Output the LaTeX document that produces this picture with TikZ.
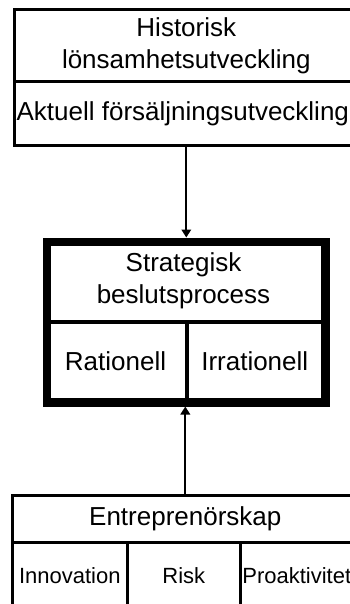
\documentclass[tikz,border=0pt]{standalone}
\usepackage{fontspec}
\setmainfont{Liberation Sans}
\usetikzlibrary{arrows.meta}

\tikzset{
  cell/.style={draw, line width=2.6pt, inner sep=0pt, anchor=north west, align=center,
               font=\fontsize{26}{32}\selectfont},
  smallcell/.style={cell, font=\fontsize{22}{26}\selectfont},
  inner/.style={cell, line width=3.5pt},
  frame/.style={draw, line width=8.5pt, inner sep=0pt, anchor=north west},
  link/.style={line width=2pt, -{Triangle[length=8pt,width=9.5pt]}}
}

\begin{document}
\begin{tikzpicture}[x=1pt,y=-1pt]
  \useasboundingbox (0,0) rectangle (350,604);
  \clip (0,0) rectangle (350,604);

  % upper block: profitability and sales history
  \node[cell, minimum width=344pt, minimum height=72pt] (hist) at (13,8)
    {Historisk\\lönsamhetsutveckling};
  \node[cell, minimum width=344pt, minimum height=64pt] (akt) at (13,80)
    {\hspace*{-7pt}Aktuell försäljningsutveckling};

  % central block: strategic decision process
  \node[inner, minimum width=278.5pt, minimum height=82.5pt] (strat) at (42.5,237.5)
    {Strategisk\\beslutsprocess};
  \node[inner, minimum width=142.5pt, minimum height=78pt] (rat) at (42.5,320)
    {Rationell};
  \node[inner, minimum width=136pt, minimum height=78pt] (irr) at (185,320)
    {Irrationell};
  \node[frame, minimum width=278.5pt, minimum height=160.5pt] (frame) at (42.5,237.5) {};

  % lower block: entrepreneurship and its dimensions
  \node[cell, minimum width=346pt, minimum height=47pt] (entre) at (11,494)
    {Entreprenörskap};
  \node[smallcell, minimum width=115pt, minimum height=67pt] (innov) at (11,541)
    {Innovation};
  \node[smallcell, minimum width=113pt, minimum height=67pt] (risk) at (126,541)
    {Risk};
  \node[smallcell, minimum width=118pt, minimum height=67pt] (proak) at (239,541)
    {\hspace*{-5pt}Proaktivitet};

  % influences on the decision process
  \draw[link] (akt.south) -- (akt.south |- frame.north);
  \draw[link] (entre.north) -- (entre.north |- frame.south);
\end{tikzpicture}
\end{document}
